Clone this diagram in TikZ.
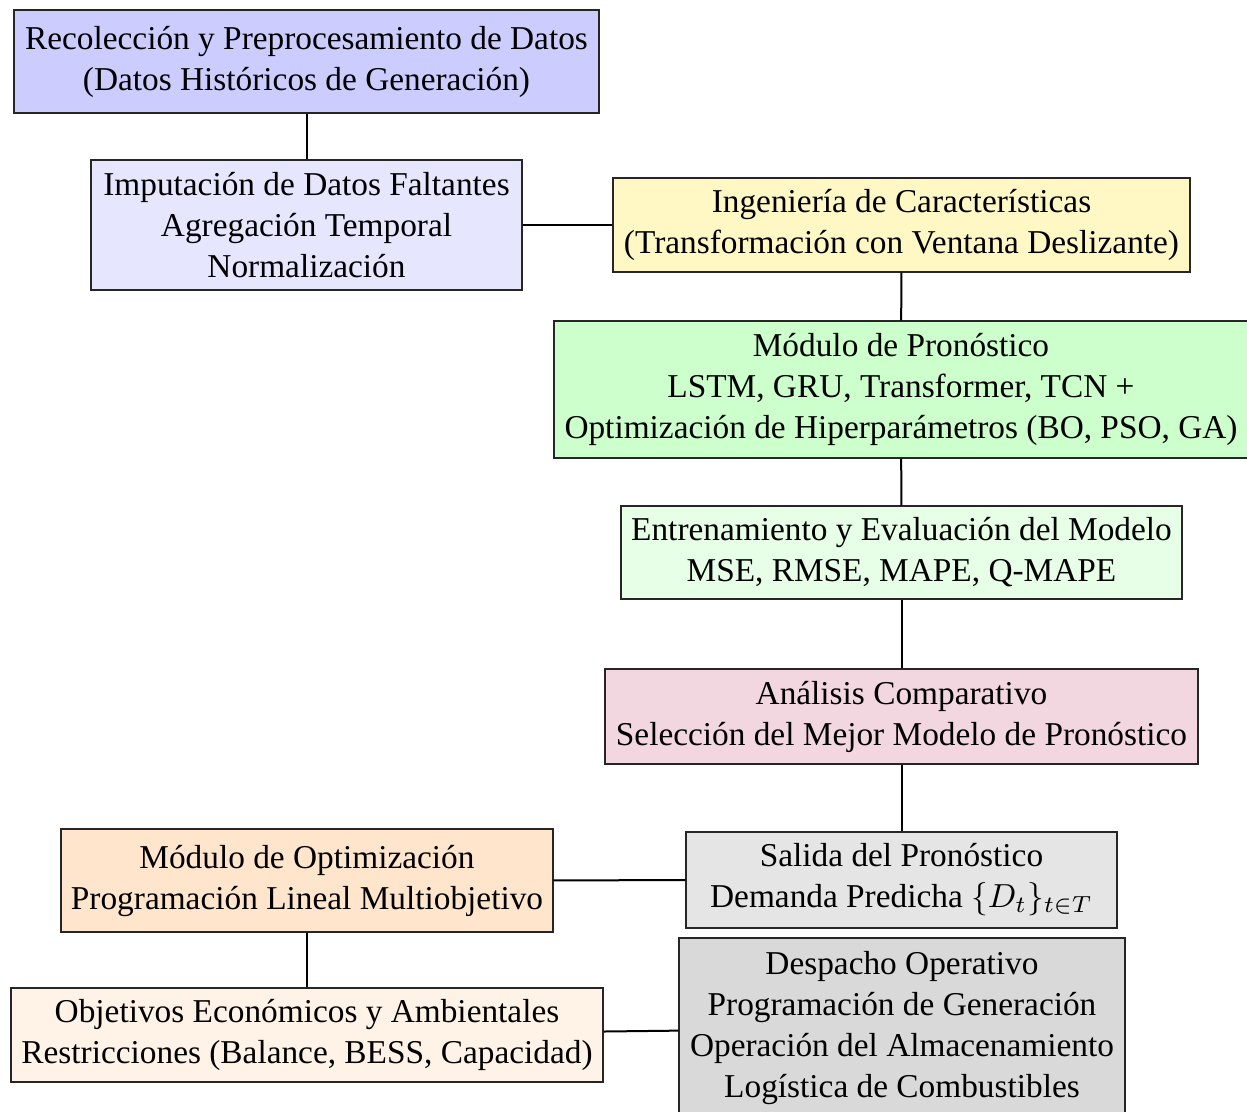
\documentclass[tikz,border=0pt]{standalone}
\usepackage{fontspec}
\setmainfont{Liberation Serif}
\definecolor{cRec}{RGB}{204,204,255}
\definecolor{cImp}{RGB}{230,230,255}
\definecolor{cIng}{RGB}{255,248,196}
\definecolor{cPro}{RGB}{204,255,204}
\definecolor{cEnt}{RGB}{230,255,230}
\definecolor{cAna}{RGB}{242,214,224}
\definecolor{cSal}{RGB}{229,229,229}
\definecolor{cOpt}{RGB}{255,229,204}
\definecolor{cObj}{RGB}{255,242,230}
\definecolor{cDes}{RGB}{217,217,217}
\tikzset{
  stage/.style={draw=black!85, line width=0.4pt, align=center, inner sep=0pt,
    font=\fontsize{10}{12.3}\selectfont},
  link/.style={draw=black, line width=0.6pt}
}
\begin{document}
\begin{tikzpicture}[x=0.3pt, y=-0.3pt]
\useasboundingbox (0,0) rectangle (1247,1112);
\node[stage, fill=cRec, minimum width=175.5pt, minimum height=30.9pt] (rec) at (306.5,61.5)
  {Recolección y Preprocesamiento de Datos\\(Datos Históricos de Generación)};
\node[stage, fill=cImp, minimum width=129.3pt, minimum height=39pt] (imp) at (306.5,225)
  {Imputación de Datos Faltantes\\Agregación Temporal\\Normalización};
\node[stage, fill=cIng, minimum width=173.1pt, minimum height=28.2pt] (ing) at (901.5,225)
  {Ingeniería de Características\\(Transformación con Ventana Deslizante)};
\node[stage, fill=cPro, minimum width=208.2pt, minimum height=41.1pt] (pro) at (901,389.5)
  {Módulo de Pronóstico\\LSTM, GRU, Transformer, TCN +\\Optimización de Hiperparámetros (BO, PSO, GA)};
\node[stage, fill=cEnt, minimum width=168.3pt, minimum height=27.9pt] (ent) at (901.5,552.5)
  {Entrenamiento y Evaluación del Modelo\\MSE, RMSE, MAPE, Q-MAPE};
\node[stage, fill=cAna, minimum width=177.9pt, minimum height=28.5pt] (ana) at (901.5,716.5)
  {Análisis Comparativo\\Selección del Mejor Modelo de Pronóstico};
\node[stage, fill=cSal, minimum width=129.3pt, minimum height=28.8pt] (sal) at (901.5,880)
  {Salida del Pronóstico\\Demanda Predicha $\{D_t\}_{t\in T}$};
\node[stage, fill=cOpt, minimum width=147.6pt, minimum height=30.9pt] (opt) at (307,880.5)
  {Módulo de Optimización\\Programación Lineal Multiobjetivo};
\node[stage, fill=cObj, minimum width=177.6pt, minimum height=28.2pt] (obj) at (307,1035)
  {Objetivos Económicos y Ambientales\\Restricciones (Balance, BESS, Capacidad)};
\node[stage, fill=cDes, minimum width=133.8pt, minimum height=54pt] (des) at (902,1028)
  {Despacho Operativo\\Programación de Generación\\Operación del Almacenamiento\\Logística de Combustibles};
\draw[link] (rec) -- (imp);
\draw[link] (imp) -- (ing);
\draw[link] (ing) -- (pro);
\draw[link] (pro) -- (ent);
\draw[link] (ent) -- (ana);
\draw[link] (ana) -- (sal);
\draw[link] (sal) -- (opt);
\draw[link] (opt) -- (obj);
\draw[link] (obj) -- (des);
\end{tikzpicture}
\end{document}
